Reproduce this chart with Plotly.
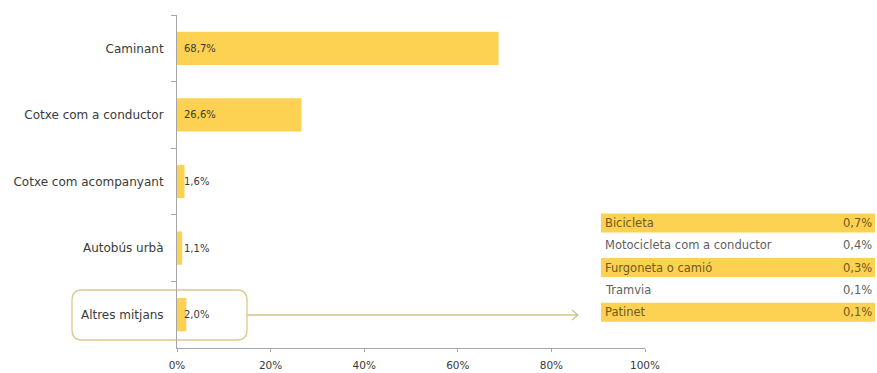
import plotly.graph_objects as go

categories = ["Caminant", "Cotxe com a conductor", "Cotxe com acompanyant", "Autobús urbà", "Altres mitjans"]
values = [68.7, 26.6, 1.6, 1.1, 2.0]
value_labels = ["68,7%", "26,6%", "1,6%", "1,1%", "2,0%"]

detail_labels = ["Bicicleta", "Motocicleta com a conductor", "Furgoneta o camió", "Tramvia", "Patinet"]
detail_values = ["0,7%", "0,4%", "0,3%", "0,1%", "0,1%"]

x_ticks = [0, 20, 40, 60, 80, 100]
x_tick_labels = ["0%", "20%", "40%", "60%", "80%", "100%"]

W, H = 877, 373
L, R, T, B = 177, 232, 15, 25
PW, PH = W - L - R, H - T - B

BAR = "#FDD152"
AX = "#A6A6A6"
FONT = "DejaVu Sans"
TXT = "#3a3a3a"

def px2x(px):
    return (px - L) / PW

def py2y(py):
    return (H - B - py) / PH

fig = go.Figure()
fig.add_trace(go.Bar(
    x=values, y=categories, orientation="h",
    marker=dict(color=BAR, line=dict(width=0)),
    hoverinfo="skip",
))

annotations = []
for c, lab in zip(categories, value_labels):
    annotations.append(dict(x=0, y=c, xref="x", yref="y", text=lab, showarrow=False,
                            xanchor="left", xshift=5, font=dict(family=FONT, size=10, color=TXT)))

shapes = []
# rounded box around "Altres mitjans"
x0, x1 = px2x(72), px2x(247)
y0, y1 = py2y(340), py2y(290)
rx, ry = 10 / PW, 10 / PH
path = (f"M {x0+rx},{y1} L {x1-rx},{y1} Q {x1},{y1} {x1},{y1-ry} "
        f"L {x1},{y0+ry} Q {x1},{y0} {x1-rx},{y0} "
        f"L {x0+rx},{y0} Q {x0},{y0} {x0},{y0+ry} "
        f"L {x0},{y1-ry} Q {x0},{y1} {x0+rx},{y1} Z")
shapes.append(dict(type="path", xref="paper", yref="paper", path=path,
                   line=dict(color="#DCC98E", width=1.3), layer="below"))

# arrow line
ay = py2y(315)
shapes.append(dict(type="line", xref="paper", yref="paper", x0=px2x(247), x1=px2x(578), y0=ay, y1=ay,
                   line=dict(color="#D6C489", width=1.3)))
tip = px2x(578)
shapes.append(dict(type="path", xref="paper", yref="paper",
                   path=f"M {tip-6/PW},{ay+5/PH} L {tip},{ay} L {tip-6/PW},{ay-5/PH}",
                   line=dict(color="#C9BC98", width=1.2)))

# detail table
row_pitch = 22.3
row_h = 19
top_center = 223
tx0, tx1 = px2x(601), px2x(875)
for i, (lab, val) in enumerate(zip(detail_labels, detail_values)):
    cy = top_center + i * row_pitch
    yellow = (i % 2 == 0)
    if yellow:
        shapes.append(dict(type="rect", xref="paper", yref="paper", x0=tx0, x1=tx1,
                           y0=py2y(cy + row_h / 2), y1=py2y(cy - row_h / 2),
                           fillcolor=BAR, line=dict(width=0), layer="below"))
    col = "#6e5a1c" if yellow else "#606060"
    annotations.append(dict(x=px2x(603), y=py2y(cy), xref="paper", yref="paper", text=lab,
                            showarrow=False, xanchor="left", yanchor="middle",
                            font=dict(family=FONT, size=11.5, color=col)))
    annotations.append(dict(x=px2x(874), y=py2y(cy), xref="paper", yref="paper", text=val,
                            showarrow=False, xanchor="right", yanchor="middle",
                            font=dict(family=FONT, size=11.5, color=col)))

fig.update_layout(
    width=W, height=H,
    margin=dict(l=L, r=R, t=T, b=B, pad=0, autoexpand=False),
    paper_bgcolor="white", plot_bgcolor="white",
    showlegend=False,
    bargap=0.5,
    font=dict(family=FONT, size=10, color=TXT),
    xaxis=dict(range=[0, 100], tickvals=x_ticks, ticktext=x_tick_labels,
               showgrid=False, zeroline=False, showline=True, linecolor=AX, linewidth=1,
               ticks="outside", ticklen=3, tickcolor=AX, fixedrange=True,
               automargin=False, ticklabelstandoff=4,
               tickfont=dict(family=FONT, size=10.5, color=TXT)),
    yaxis=dict(categoryorder="array", categoryarray=categories, autorange="reversed",
               showgrid=False, zeroline=False, showline=True, linecolor=AX, linewidth=1,
               ticks="outside", ticklen=5, tickcolor=AX, tickson="boundaries",
               ticklabelstandoff=10, automargin=False,
               tickfont=dict(family=FONT, size=12, color=TXT)),
    shapes=shapes,
    annotations=annotations,
)

fig.write_html("out.html")
